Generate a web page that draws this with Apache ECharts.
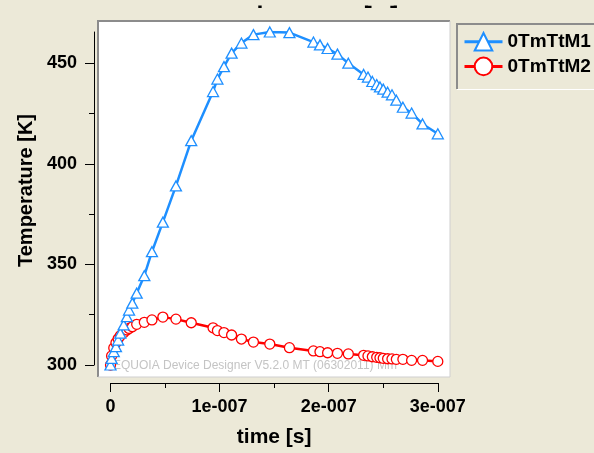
<!DOCTYPE html>
<html>
<head>
<meta charset="utf-8">
<script src="https://cdn.jsdelivr.net/npm/echarts@6/dist/echarts.min.js"></script>
<style>
  html, body { margin: 0; padding: 0; background: #ECE9D8; }
  #chart { width: 594px; height: 453px; }
</style>
</head>
<body>
<div id="chart"></div>
<script>
// Simulation time of each transient step, in ns (axis shows seconds)
const timeNs = [0, 1, 3, 5, 7, 9, 12, 15, 17, 20, 24, 31, 38, 48, 60, 74, 94, 98, 104, 111, 120, 131, 146, 164,
                186, 192, 199, 208, 218, 232, 236, 240, 244, 247, 250, 254, 258, 262, 268, 276, 286, 300];
// Maximum lattice temperature of the two devices [K]
const tempM1 = [300, 303.3, 306.6, 309.1, 312.4, 315.8, 319.9, 324.0, 327.3, 330.7, 335.7, 344.4, 356.3, 371.0,
                389.0, 411.5, 435.9, 442.1, 448.3, 455.0, 460.0, 464.2, 465.5, 465.2, 460.5, 459.1, 457.3, 454.5,
                450.0, 444.4, 443.1, 440.9, 439.4, 438.2, 437.1, 435.6, 434.3, 431.6, 428.1, 425.2, 419.8, 414.9];
const tempM2 = [300, 304.5, 308.5, 311.0, 313.0, 314.5, 316.0, 317.4, 318.2, 319.0, 320.2, 321.2, 322.4, 323.8,
                322.8, 321.0, 318.5, 317.1, 316.1, 314.9, 312.9, 311.4, 310.4, 308.6, 307.0, 306.6, 306.1, 305.8,
                305.5, 304.8, 304.5, 304.1, 303.8, 303.6, 303.3, 303.1, 303.0, 302.8, 302.8, 302.3, 302.3, 301.8];
const seriesNames = ['0TmTtM1', '0TmTtM2'];
const xTickValues = [0, 100, 200, 300];
const yTickValues = [300, 350, 400, 450];
const yMinorValues = [325, 375, 425];

const FONT = '"Liberation Sans", Arial, sans-serif';
const BLUE = '#1E8FFF';
const RED = '#FF0000';
const PANEL = '#ECE9D8';

const yMin = Math.min(...tempM1, ...tempM2);
const yMax = Math.max(...tempM1, ...tempM2);

function xLabel(v) {
  return v === 0 ? '0' : (v / 100) + 'e-007';
}

const chart = echarts.init(document.getElementById('chart'), null, { renderer: 'canvas' });

chart.setOption({
  animation: false,
  backgroundColor: PANEL,
  grid: { left: 110.5, right: 156.2, top: 32, bottom: 88, containLabel: false },
  legend: {
    orient: 'vertical',
    left: 458,
    top: 27,
    itemWidth: 38,
    itemHeight: 22,
    itemGap: 5,
    selectedMode: false,
    data: seriesNames,
    lineStyle: { width: 3 },
    textStyle: { fontFamily: FONT, fontSize: 19, fontWeight: 'bold', color: '#000' }
  },
  xAxis: {
    type: 'value',
    min: xTickValues[0],
    max: xTickValues[xTickValues.length - 1],
    interval: 100,
    offset: 18,
    axisLine: { onZero: false, lineStyle: { color: '#000', width: 1 } },
    axisTick: { length: 9, lineStyle: { color: '#000' } },
    minorTick: { show: true, splitNumber: 2, length: 5, lineStyle: { color: '#000' } },
    splitLine: { show: false },
    minorSplitLine: { show: false },
    axisLabel: { margin: 15, formatter: xLabel, fontFamily: FONT, fontSize: 18, fontWeight: 'bold', color: '#000' },
    name: 'time [s]',
    nameLocation: 'middle',
    nameGap: 44,
    nameTextStyle: { fontFamily: FONT, fontSize: 21, fontWeight: 'bold', color: '#000' }
  },
  yAxis: [{
    type: 'value',
    min: yMin,
    max: yMax,
    offset: 16.5,
    axisLine: { show: true, onZero: false, lineStyle: { color: '#000', width: 1 } },
    axisTick: { show: true, length: 9, customValues: yTickValues, lineStyle: { color: '#000' } },
    splitLine: { show: false },
    axisLabel: { margin: 17, customValues: yTickValues, fontFamily: FONT, fontSize: 18, fontWeight: 'bold', color: '#000' },
    name: 'Temperature [K]',
    nameLocation: 'middle',
    nameGap: 58,
    nameTextStyle: { fontFamily: FONT, fontSize: 20, fontWeight: 'bold', color: '#000', padding: [0, 0, 0, 16] }
  }, {
    // minor ticks of the temperature axis
    type: 'value',
    min: yMin,
    max: yMax,
    position: 'left',
    offset: 16.5,
    axisLine: { show: false, onZero: false },
    axisTick: { show: true, length: 5, customValues: yMinorValues, lineStyle: { color: '#000' } },
    axisLabel: { show: false },
    splitLine: { show: false }
  }],
  graphic: {
    elements: [
      { type: 'rect', z: 0, silent: true, shape: { x: 98, y: 21, width: 352, height: 356 }, style: { fill: '#fff' } },
      { type: 'polyline', z: 1, silent: true, shape: { points: [[98, 377], [98, 21], [450, 21]] },
        style: { stroke: '#8c8c8c', lineWidth: 2, fill: null } },
      { type: 'polyline', z: 1, silent: true, shape: { points: [[450, 21], [450, 377], [98, 377]] },
        style: { stroke: '#cfcfcf', lineWidth: 1, fill: null } },
      { type: 'polyline', z: 1, silent: true, shape: { points: [[457, 89], [457, 24], [600, 24]] },
        style: { stroke: '#8c8c8c', lineWidth: 2, fill: null } },
      { type: 'polyline', z: 1, silent: true, shape: { points: [[457, 89.5], [600, 89.5]] },
        style: { stroke: '#ffffff', lineWidth: 1, fill: null } },
      { type: 'text', z: 1, silent: true, x: 105, y: 366,
        style: { text: 'SEQUOIA Device Designer V5.2.0 MT (06302011) Mm', fill: '#c4c4c4',
                 font: '12px ' + FONT, verticalAlign: 'middle', align: 'left' } },
      // plot title, clipped by the window frame so only its descenders remain
      { type: 'text', z: 1, silent: true, x: 207, y: 8.5,
        style: { text: 'Temperature [K]', fill: '#000', font: 'bold 25px ' + FONT,
                 verticalAlign: 'bottom', align: 'left' } },
      { type: 'rect', z: 2, silent: true, shape: { x: 0, y: 0, width: 594, height: 5.5 }, style: { fill: PANEL } }
    ]
  },
  series: [{
    name: seriesNames[0],
    type: 'line',
    z: 3,
    data: timeNs.map((t, i) => [t, tempM1[i]]),
    symbol: 'triangle',
    symbolSize: [11, 10],
    showAllSymbol: true,
    itemStyle: { color: '#fff', borderColor: BLUE, borderWidth: 1.3 },
    lineStyle: { color: BLUE, width: 2.5 }
  }, {
    name: seriesNames[1],
    type: 'line',
    z: 2,
    data: timeNs.map((t, i) => [t, tempM2[i]]),
    symbol: 'circle',
    symbolSize: 10,
    showAllSymbol: true,
    itemStyle: { color: '#fff', borderColor: RED, borderWidth: 1.3 },
    lineStyle: { color: RED, width: 2.5 }
  }]
});
</script>
</body>
</html>
